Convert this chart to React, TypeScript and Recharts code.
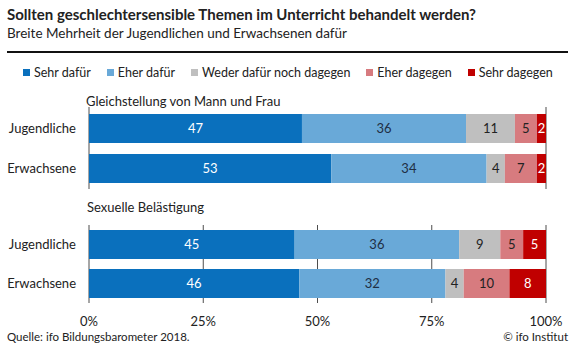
import React from "react";
import {
  Bar,
  BarChart,
  CartesianGrid,
  LabelList,
  XAxis,
  YAxis,
} from "recharts";

const categories = ["Jugendliche", "Erwachsene"];
const seriesNames = [
  "Sehr dafür",
  "Eher dafür",
  "Weder dafür noch dagegen",
  "Eher dagegen",
  "Sehr dagegen",
];
const seriesColors = ["#0a70bd", "#69a9d8", "#bfbfbf", "#d77b7f", "#c00000"];
const labelColors = ["#ffffff", "#1f2f44", "#222222", "#222222", "#ffffff"];
const xTicks = [0, 25, 50, 75, 100];

// Gleichstellung von Mann und Frau (Jugendliche, Erwachsene)
const gleichSehrDafuer = [46.6, 53];
const gleichEherDafuer = [35.9, 34];
const gleichWeder = [10.7, 4];
const gleichEherDagegen = [4.8, 7];
const gleichSehrDagegen = [2, 2];

// Sexuelle Belästigung (Jugendliche, Erwachsene)
const sexSehrDafuer = [45, 46];
const sexEherDafuer = [36, 32];
const sexWeder = [9, 4];
const sexEherDagegen = [5, 10];
const sexSehrDagegen = [5, 8];

const font = "Lato, 'Noto Sans', sans-serif";

function buildRows(series: number[][]) {
  return categories.map((name, i) => {
    const row: Record<string, string | number> = { name };
    series.forEach((values, s) => {
      row[`s${s}`] = values[i];
    });
    return row;
  });
}

const gleichRows = buildRows([
  gleichSehrDafuer,
  gleichEherDafuer,
  gleichWeder,
  gleichEherDagegen,
  gleichSehrDagegen,
]);
const sexRows = buildRows([
  sexSehrDafuer,
  sexEherDafuer,
  sexWeder,
  sexEherDagegen,
  sexSehrDagegen,
]);

type GroupChartProps = {
  rows: Record<string, string | number>[];
  top: number;
  bottom: number;
  padding: number;
  showAxis: boolean;
};

function GroupChart({ rows, top, bottom, padding, showAxis }: GroupChartProps) {
  return (
    <div style={{ position: "absolute", left: 0, top: 0 }}>
      <BarChart
        width={584}
        height={360}
        data={rows}
        layout="vertical"
        margin={{ top, right: 38, bottom, left: 0 }}
      >
        <CartesianGrid horizontal={false} stroke="#4d4d4d" />
        <XAxis
          type="number"
          domain={[0, 100]}
          ticks={xTicks}
          tickFormatter={(v) => `${v}%`}
          axisLine={false}
          tickLine={false}
          tick={showAxis ? { fill: "#222", fontSize: 13, fontFamily: font } : false}
          tickMargin={8}
          height={showAxis ? 30 : 0}
          interval={0}
        />
        <YAxis
          type="category"
          dataKey="name"
          width={89}
          axisLine={false}
          tickLine={false}
          tickMargin={7}
          padding={{ top: padding, bottom: padding }}
          tick={{ fill: "#222", fontSize: 13, fontFamily: font }}
        />
        {seriesNames.map((name, s) => (
          <Bar
            key={name}
            dataKey={`s${s}`}
            name={name}
            stackId="a"
            fill={seriesColors[s]}
            barSize={29}
            isAnimationActive={false}
          >
            <LabelList
              dataKey={`s${s}`}
              position="center"
              formatter={(v: number) => Math.round(v)}
              style={{ fill: labelColors[s], fontSize: 13, fontFamily: font }}
            />
          </Bar>
        ))}
      </BarChart>
    </div>
  );
}

export default function App() {
  return (
    <div
      style={{
        position: "absolute",
        left: 0,
        top: 0,
        width: 584,
        height: 360,
        background: "#fff",
        fontFamily: font,
        color: "#222",
      }}
    >
      <div style={{ position: "absolute", left: 7, top: 5, fontSize: 15, fontWeight: 700 }}>
        Sollten geschlechtersensible Themen im Unterricht behandelt werden?
      </div>
      <div style={{ position: "absolute", left: 7, top: 25, fontSize: 13.5 }}>
        Breite Mehrheit der Jugendlichen und Erwachsenen dafür
      </div>
      <div
        style={{
          position: "absolute",
          left: 7,
          top: 51,
          width: 561,
          height: 2,
          background: "#111",
        }}
      />
      <div
        style={{
          position: "absolute",
          left: 23,
          top: 65,
          display: "flex",
          fontSize: 12.5,
          whiteSpace: "nowrap",
        }}
      >
        {seriesNames.map((name, s) => (
          <div key={name} style={{ display: "flex", alignItems: "center", marginRight: 16 }}>
            <span
              style={{
                display: "inline-block",
                width: 7,
                height: 7,
                background: seriesColors[s],
                marginRight: 4,
              }}
            />
            {name}
          </div>
        ))}
      </div>
      <div style={{ position: "absolute", left: 86, top: 93, fontSize: 13 }}>
        Gleichstellung von Mann und Frau
      </div>
      <div style={{ position: "absolute", left: 87, top: 199, fontSize: 13 }}>
        Sexuelle Belästigung
      </div>
      <GroupChart rows={gleichRows} top={107} bottom={171} padding={1} showAxis={false} />
      <GroupChart rows={sexRows} top={225} bottom={27} padding={0} showAxis />
      <div style={{ position: "absolute", left: 7, top: 330, fontSize: 11.5 }}>
        Quelle: ifo Bildungsbarometer 2018.
      </div>
      <div style={{ position: "absolute", right: 16, top: 330, fontSize: 11.5 }}>
        © ifo Institut
      </div>
    </div>
  );
}
